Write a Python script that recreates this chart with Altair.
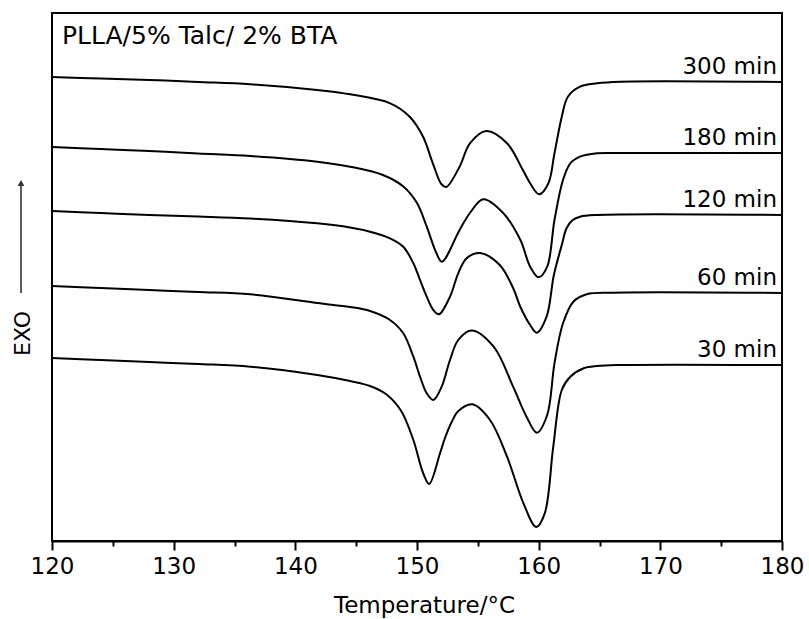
import altair as alt
import pandas as pd

series = ["300 min", "180 min", "120 min", "60 min", "30 min"]

t_300 = [120, 124, 128, 132, 136.3, 141.8, 144.5, 147.8, 149.4, 150.5, 151.3, 152.0, 152.4, 153.5, 154.35, 155.7, 157.4, 158.7, 159.3, 160.05, 160.8, 161.3, 161.9, 162.4, 163.4, 164.8, 166.7, 180]
h_300 = [464, 462.5, 461, 459, 456.7, 451, 446.7, 437.7, 424.3, 404.3, 377.7, 357, 354, 374.3, 397.7, 410, 397.7, 371, 357.7, 346.7, 357.7, 387.7, 424.3, 444.3, 454.3, 457.7, 459.3, 459]

t_180 = [120, 124, 128, 132, 136.3, 141.8, 144.5, 147.2, 148.9, 150.0, 150.8, 151.6, 152.05, 153.5, 154.35, 155.45, 157.1, 158.5, 159.3, 160.0, 160.7, 161.3, 162.0, 162.6, 163.4, 164.8, 166.7, 180]
h_180 = [394, 392, 390, 387.5, 385, 379.3, 374.3, 366, 354.3, 338, 314.3, 287.7, 279.3, 311, 328, 341.7, 327.7, 301, 274.3, 263.7, 274.3, 321, 361, 377.7, 384.3, 387.7, 388, 388]

t_120 = [120, 124, 128, 132, 136.3, 141.8, 144.5, 146.14, 147.78, 148.87, 149.7, 150.25, 150.8, 151.34, 151.81, 152.71, 153.39, 154.08, 155.18, 156.8, 157.9, 158.5, 159.3, 159.85, 160.65, 161.25, 161.9, 162.3, 162.8, 163.4, 164.8, 180]
h_120 = [330, 328, 326, 324.5, 322.5, 317.7, 313.5, 309.3, 302.7, 294.3, 277.7, 261, 244.3, 231, 226.7, 244.3, 267.7, 282.7, 288, 276, 253, 234, 216, 208.3, 224.3, 266, 296, 313, 321, 324.3, 326, 326]

t_60 = [120, 124, 128, 132, 136.3, 141.8, 144.5, 146.14, 147.78, 148.87, 149.7, 150.25, 150.8, 151.34, 152.03, 152.71, 153.39, 154.5, 156.3, 157.9, 159.0, 159.85, 160.7, 161.3, 162.0, 162.85, 163.95, 166.1, 180]
h_60 = [255, 253, 251, 249, 246.7, 238, 234, 230, 221, 207.7, 184.3, 164.3, 147.7, 141, 154.3, 181, 201, 210.5, 194.3, 154.3, 124.3, 108.3, 126, 177.7, 217.7, 239.3, 246.7, 248.3, 248]

t_30 = [120, 124, 128, 132, 136.3, 141.8, 144.5, 146.14, 147.5, 148.7, 149.7, 150.5, 151.0, 151.9, 152.3, 152.85, 153.4, 154.55, 156.0, 157.4, 158.75, 159.8, 160.5, 161.2, 161.9, 162.6, 163.7, 164.8, 166.7, 180]
h_30 = [183, 181, 179, 177, 174.3, 166, 160, 155, 146.5, 130, 101, 68, 57, 88, 103, 119, 130, 136.7, 121, 84.3, 37.7, 14, 27.7, 94.3, 151, 164.3, 172.7, 175, 176, 176]

x_ticks = [120, 125, 130, 135, 140, 145, 150, 155, 160, 165, 170, 175, 180]
sample_title = "PLLA/5% Talc/ 2% BTA"

all_t = [t_300, t_180, t_120, t_60, t_30]
all_h = [h_300, h_180, h_120, h_60, h_30]

rows = []
for name, ts, hs in zip(series, all_t, all_h):
    for t, h in zip(ts, hs):
        rows.append({"series": name, "T": t, "H": h})
df = pd.DataFrame(rows)

lab_df = pd.DataFrame({"series": series, "H": [h[-1] for h in all_h]})

FONT = "DejaVu Sans"
x_scale = alt.Scale(domain=[120, 180], nice=False, zero=False)
y_scale = alt.Scale(domain=[0, 528], nice=False, zero=False)

x_axis = alt.Axis(
    values=x_ticks,
    labelExpr="datum.value % 10 === 0 ? datum.label : ''",
    tickSize=alt.condition("datum.value % 10 === 0", alt.value(9), alt.value(5)),
    tickWidth=2, tickColor="black",
    domainWidth=2, domainColor="black",
    labelFont=FONT, labelFontSize=23, labelColor="black", labelPadding=5,
    labelFlush=False,
    grid=False,
    title="Temperature/\u00b0C",
    titleFont=FONT, titleFontSize=23, titleFontWeight="normal", titleColor="black",
    titleX=372, titleY=71, titleBaseline="alphabetic",
)
y_axis = alt.Axis(
    labels=False, ticks=False, domain=False, grid=False,
    title="EXO", titleFont=FONT, titleFontSize=22, titleFontWeight="normal",
    titleColor="black", titleX=-30, titleY=320, titleAlign="center",
    titleBaseline="middle", titleAngle=270,
)

lines = alt.Chart(df).mark_line(color="black", strokeWidth=2, interpolate="catmull-rom").encode(
    x=alt.X("T:Q", scale=x_scale, axis=x_axis),
    y=alt.Y("H:Q", scale=y_scale, axis=y_axis),
    detail="series:N",
)

labels = alt.Chart(lab_df).mark_text(
    align="right", baseline="alphabetic", dy=-8, font=FONT, fontSize=23, color="black"
).encode(
    x=alt.value(725),
    y=alt.Y("H:Q", scale=y_scale),
    text="series:N",
)

one = alt.Data(values=[{"label": sample_title}])

title_txt = alt.Chart(one).mark_text(
    align="left", baseline="alphabetic", font=FONT, fontSize=25, color="black"
).encode(x=alt.value(10), y=alt.value(31), text="label:N")

arrow_line = alt.Chart(one).mark_rule(color="#333333", strokeWidth=1.6).encode(
    x=alt.value(-31), y=alt.value(280), y2=alt.value(172)
)
arrow_head = alt.Chart(one).mark_point(
    shape="triangle-up", filled=True, color="#333333", size=45, opacity=1
).encode(x=alt.value(-31), y=alt.value(170))

chart = alt.layer(lines, labels, title_txt, arrow_line, arrow_head).properties(
    width=730, height=528,
    autosize=alt.AutoSizeParams(type="none"),
    padding={"left": 52, "top": 13, "right": 27, "bottom": 78},
).configure_view(stroke="black", strokeWidth=2)

chart.save("out.html", embed_options={"renderer": "svg", "actions": False})
